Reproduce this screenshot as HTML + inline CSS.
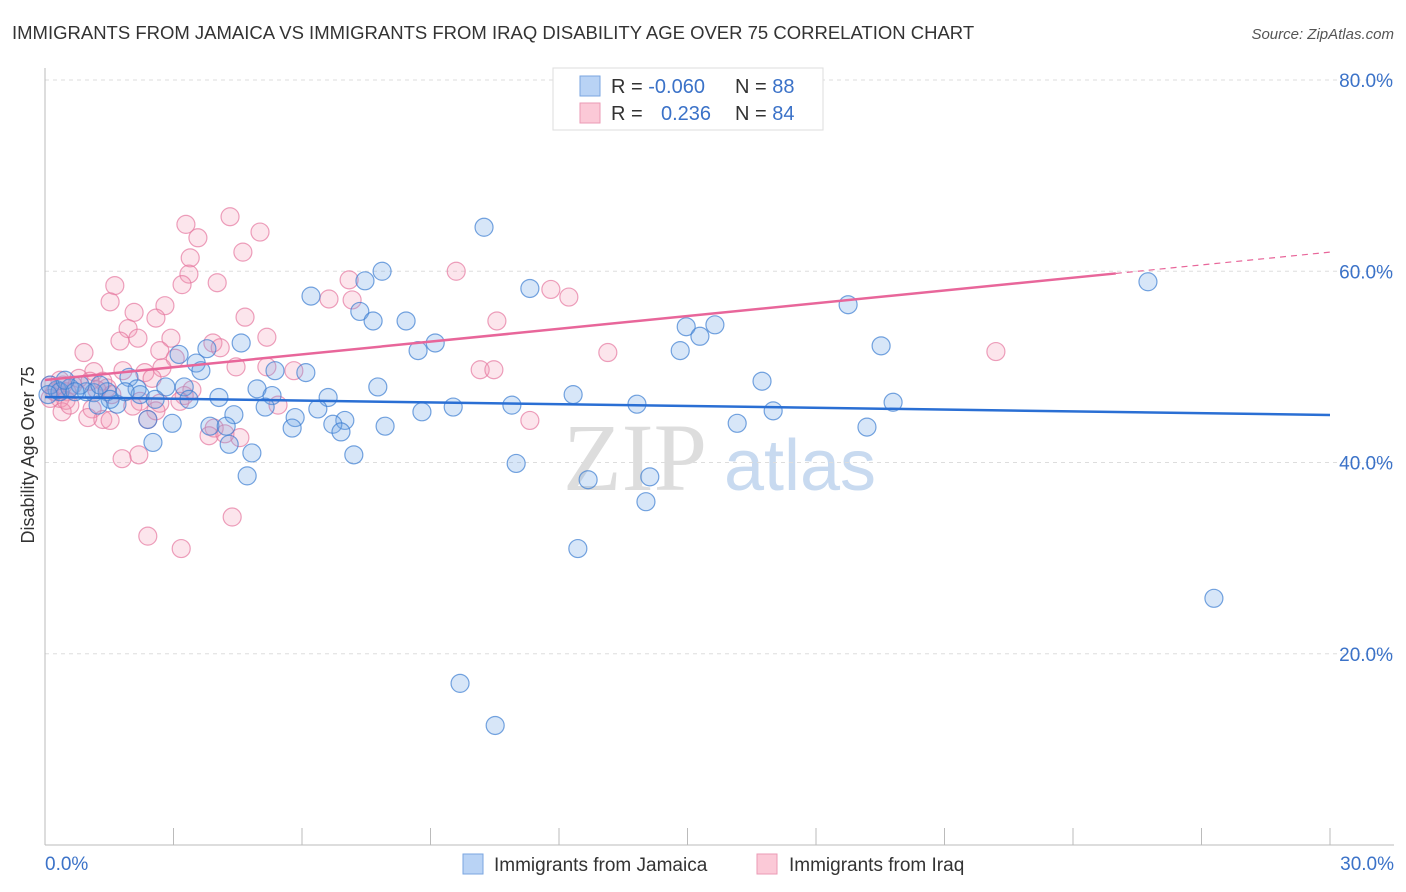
<!DOCTYPE html>
<html><head><meta charset="utf-8"><style>
body{margin:0;background:#fff;font-family:"Liberation Sans",sans-serif}
svg{display:block}
</style></head><body>
<svg id="chart" width="1406" height="892">
<text x="12" y="39" font-size="18.5" fill="#333">IMMIGRANTS FROM JAMAICA VS IMMIGRANTS FROM IRAQ DISABILITY AGE OVER 75 CORRELATION CHART</text>
<text x="1394" y="39" font-size="15" fill="#555" font-style="italic" text-anchor="end">Source: ZipAtlas.com</text>
<g>
<text x="635" y="490" font-size="96" fill="#ddd" font-family="Liberation Serif, serif" text-anchor="middle">ZIP</text>
<text x="800" y="490" font-size="72" fill="#c8daf0" text-anchor="middle">atlas</text>
</g>
<g id="grid"></g>
<g id="axes"></g>
<g id="marks"></g>
<g id="trends"></g>
<text transform="translate(34,455) rotate(-90)" font-size="18" fill="#333" text-anchor="middle">Disability Age Over 75</text>
<g>
<rect x="553" y="68" width="270" height="62" fill="#fff" stroke="#ddd"/>
<rect x="580" y="76" width="20" height="20" fill="#b9d3f5" stroke="#7aa6e0"/>
<rect x="580" y="103" width="20" height="20" fill="#fbc9d7" stroke="#eb9ab4"/>
<text x="611" y="93" font-size="20" fill="#333">R = <tspan fill="#3b72c8">-0.060</tspan><tspan x="735">N = </tspan><tspan fill="#3b72c8">88</tspan></text>
<text x="611" y="120" font-size="20" fill="#333">R = <tspan x="661" fill="#3b72c8">0.236</tspan><tspan x="735">N = </tspan><tspan fill="#3b72c8">84</tspan></text>
</g>
<g>
<rect x="463" y="854" width="20" height="20" fill="#b9d3f5" stroke="#7aa6e0"/>
<text x="494" y="871" font-size="19" fill="#333">Immigrants from Jamaica</text>
<rect x="757" y="854" width="20" height="20" fill="#fbc9d7" stroke="#eb9ab4"/>
<text x="789" y="871" font-size="19" fill="#333">Immigrants from Iraq</text>
</g>
</svg>
<script>
const yTicks=[20,40,60,80];
const yTickLabels=["20.0%","40.0%","60.0%","80.0%"];
const xTicks=[0,3,6,9,12,15,18,21,24,27,30];
const xEndLabels=["0.0%","30.0%"];
const jamX=[10.25,7.87,7.47,11.32,6.21,25.75,7.35,7.66,8.43,18.75,14.97,15.64,15.29,4.58,9.11,8.71,14.83,19.52,3.78,3.13,3.53,3.64,5.37,6.09,1.96,7.77,16.74,2.82,3.25,4.95,2.15,5.30,4.06,6.61,12.33,1.14,0.96,0.28,1.45,3.36,1.68,5.14,6.37,9.53,10.90,13.82,19.80,17.00,8.80,4.41,5.84,7.00,2.40,2.97,3.85,4.23,5.77,6.72,6.91,7.94,16.16,19.19,2.52,4.30,4.83,7.21,11.00,4.72,12.68,14.12,14.03,12.44,27.29,9.69,10.51,0.12,0.35,0.58,0.82,1.28,1.52,2.22,2.57,1.87,1.24,0.07,0.47,0.70];
const jamY=[64.6,60.0,59.0,58.2,57.4,58.9,55.8,54.8,54.8,56.5,54.2,54.4,53.2,52.5,52.5,51.7,51.7,52.2,51.9,51.3,50.4,49.6,49.6,49.4,48.9,47.9,48.5,47.9,47.9,47.7,47.7,47.0,46.8,46.8,47.1,47.3,47.4,47.6,47.4,46.6,46.1,45.8,45.6,45.8,46.0,46.1,46.3,45.4,45.3,45.0,44.7,44.4,44.5,44.1,43.8,43.8,43.6,44.0,43.2,43.8,44.1,43.7,42.1,41.9,41.0,40.8,39.9,38.6,38.2,38.5,35.9,31.0,25.8,16.9,12.5,48.1,47.4,47.8,48.1,48.1,46.6,47.1,46.6,47.4,46.0,47.1,48.6,47.4];
const iraqX=[3.29,4.32,3.57,5.02,4.62,3.39,9.60,3.36,7.10,4.02,1.63,3.20,11.81,1.52,2.80,6.63,7.17,12.23,2.08,2.59,4.67,10.55,1.94,2.94,2.17,5.18,1.75,3.92,4.09,2.68,0.91,13.14,22.20,3.04,4.46,2.73,2.33,10.16,10.48,1.14,1.82,5.18,5.81,2.50,0.79,1.35,0.42,0.65,1.05,1.45,1.56,0.23,0.51,1.21,3.43,0.12,0.35,0.49,2.22,2.05,2.68,3.25,1.10,0.40,1.35,1.00,1.52,3.95,2.40,2.59,3.83,4.55,5.44,11.32,2.19,1.80,4.37,2.40,3.18,4.20,3.15,0.35,0.12,0.58];
const iraqY=[64.9,65.7,63.5,64.1,62.0,61.4,60.0,59.7,59.1,58.8,58.5,58.6,58.1,56.8,56.4,57.1,57.0,57.3,55.7,55.1,55.2,54.8,54.0,53.0,53.0,53.1,52.7,52.5,52.0,51.7,51.5,51.5,51.6,50.9,50.0,49.9,49.4,49.7,49.7,49.5,49.6,50.0,49.6,48.8,48.8,48.5,48.1,48.1,48.5,47.8,47.1,47.4,47.4,47.6,47.6,48.1,46.7,46.5,46.4,45.9,46.2,47.0,45.6,45.3,44.5,44.7,44.4,43.6,44.5,45.4,42.8,42.6,46.0,44.4,40.8,40.4,34.3,32.3,31.0,43.0,46.4,48.6,46.7,46.0];
const jamTrend=[46.85,44.97];
const iraqTrend=[48.63,62.0];
const iraqSolidEnd=25;
const NS="http://www.w3.org/2000/svg";
const X=v=>45+v*(1285/30);
const Y=v=>845-v*(765/80);
function mk(tag,attrs,parent){const e=document.createElementNS(NS,tag);for(const k in attrs)e.setAttribute(k,attrs[k]);parent.appendChild(e);return e;}
const grid=document.getElementById('grid'),axes=document.getElementById('axes'),marks=document.getElementById('marks'),trends=document.getElementById('trends');
yTicks.forEach((t,i)=>{
 const l=mk('line',{x1:45,x2:1394,y1:Y(t),y2:Y(t),stroke:'#ddd','stroke-dasharray':'4,4'},grid);
 
 
 const tx=mk('text',{x:1393,y:Y(t)+7,'font-size':19,fill:'#3b72c8','text-anchor':'end'},axes);
 tx.textContent=yTickLabels[i];
 
 
});
const ax=mk('line',{x1:45,x2:1394,y1:845,y2:845,stroke:'#bbb'},axes);


const ay=mk('line',{x1:45,x2:45,y1:68,y2:845,stroke:'#bbb'},axes);


xTicks.forEach(t=>{
 const l=mk('line',{x1:X(t),x2:X(t),y1:828,y2:845,stroke:'#bbb'},axes);
 
 
});
[[0,'start',45],[30,'end',1394]].forEach((d,i)=>{
 const tx=mk('text',{x:d[2],y:870,'font-size':19,fill:'#3b72c8','text-anchor':d[1]},axes);
 tx.textContent=xEndLabels[i];
 
 
});
function dots(xs,ys,fill,stroke,name){
 xs.forEach((x,i)=>{
  const c=mk('circle',{cx:X(x),cy:Y(ys[i]),r:9,fill:fill,stroke:stroke,'stroke-width':1.2},marks);
  
  
 });
}
dots(iraqX,iraqY,'rgba(242,150,180,0.25)','rgba(230,120,160,0.7)','iraq-point');
dots(jamX,jamY,'rgba(110,165,230,0.28)','rgba(60,125,210,0.7)','jamaica-point');
const jl=mk('line',{x1:X(0),y1:Y(jamTrend[0]),x2:X(30),y2:Y(jamTrend[1]),stroke:'#2a6fd4','stroke-width':2.5},trends);


const iy=v=>iraqTrend[0]+(iraqTrend[1]-iraqTrend[0])*v/30;
const il=mk('line',{x1:X(0),y1:Y(iy(0)),x2:X(iraqSolidEnd),y2:Y(iy(iraqSolidEnd)),stroke:'#e8669a','stroke-width':2.5},trends);


const id=mk('line',{x1:X(iraqSolidEnd),y1:Y(iy(iraqSolidEnd)),x2:X(30),y2:Y(iy(30)),stroke:'#e8669a','stroke-width':1.2,'stroke-dasharray':'6,5'},trends);


</script>
</body></html>
